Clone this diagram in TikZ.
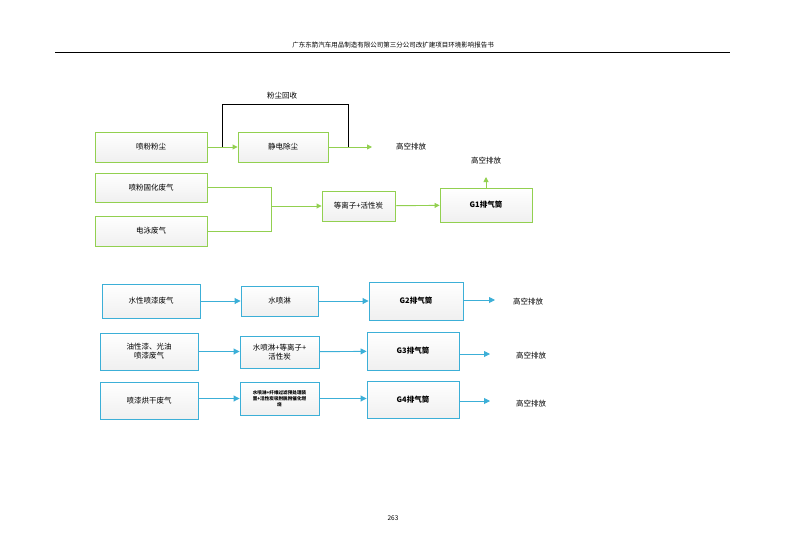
\documentclass[tikz,border=0pt]{standalone}
\usepackage{fontspec}
\setmainfont{Noto Sans CJK SC}
\usetikzlibrary{arrows.meta}
\definecolor{gr}{RGB}{146,208,80}
\definecolor{bl}{RGB}{60,175,215}
\tikzset{
 gbox/.style={draw=gr,line width=0.9pt,top color=white,bottom color=black!6,font=\fontsize{7.5}{9}\selectfont,inner sep=0pt},
 bbox/.style={draw=bl,line width=0.9pt,top color=white,bottom color=black!6,font=\fontsize{7.5}{9}\selectfont,inner sep=0pt,align=center},
 lbl/.style={font=\fontsize{7.5}{9}\selectfont},
 ga/.style={draw=gr,line width=0.9pt,-{Triangle[length=5pt,width=5pt]}},
 gl/.style={draw=gr,line width=0.9pt},
 ba/.style={draw=bl,line width=0.9pt,-{Triangle[length=6pt,width=6pt]}},
}
\begin{document}
\begin{tikzpicture}[x=1pt,y=-1pt]
\useasboundingbox (0,0) rectangle (786,556);
\node[lbl,font=\fontsize{6.5}{8}\selectfont] (hdr) at (393,45) {广东东箭汽车用品制造有限公司第三分公司改扩建项目环境影响报告书};
\draw[line width=0.5pt] (55,52) -- (730,52);
\node[font=\fontsize{6.5}{8}\selectfont] (pg) at (393,518) {263};
% top
\node[gbox,minimum width=112pt,minimum height=30pt] (pf) at (151,147) {喷粉粉尘};
\node[gbox,minimum width=90pt,minimum height=30pt] (jd) at (283,147) {静电除尘};
\node[gbox,minimum width=112pt,minimum height=29pt] (gh) at (151,187.5) {喷粉固化废气};
\node[gbox,minimum width=112pt,minimum height=30pt] (dy) at (151,231) {电泳废气};
\node[gbox,minimum width=73pt,minimum height=30pt] (dl) at (358.5,206) {等离子+活性炭};
\node[gbox,minimum width=92pt,minimum height=34pt] (g1) at (486,205) {\bfseries G1排气筒};
\node[lbl] (o1) at (411,147) {高空排放};
\node[lbl] (o2) at (486,161) {高空排放};
\node[lbl] (hs) at (282,96) {粉尘回收};
\coordinate (c1) at (222,147);
\coordinate (c2) at (348,147);
\coordinate (e1) at (372,147);
\coordinate (m) at (271,206);
\draw[ga] (pf) -- (jd);
\draw[ga] (jd) -- (e1);
\draw[line width=0.8pt] (c1) -- (222,104) -- (348,104) -- (c2);
\draw[gl] (gh.east) -| (m);
\draw[gl] (dy.east) -| (m);
\draw[ga] (m) -- (dl);
\draw[ga] (dl) -- (g1);
\draw[ga] (g1.north) -- (486,177);
% bottom
\node[bbox,minimum width=98pt,minimum height=34pt] (a1) at (151,301) {水性喷漆废气};
\node[bbox,minimum width=77pt,minimum height=30pt] (a2) at (279.5,301) {水喷淋};
\node[bbox,minimum width=94pt,minimum height=38pt] (a3) at (416,301) {\bfseries G2排气筒};
\node[lbl] (a4) at (528,302) {高空排放};
\node[bbox,minimum width=98pt,minimum height=37pt] (b1) at (149,351.5) {油性漆、光油\\喷漆废气};
\node[bbox,minimum width=79pt,minimum height=32pt] (b2) at (279.5,352) {水喷淋+等离子+\\活性炭};
\node[bbox,minimum width=92pt,minimum height=38pt] (b3) at (413,351) {\bfseries G3排气筒};
\node[lbl] (b4) at (531,356) {高空排放};
\node[bbox,minimum width=98pt,minimum height=37pt] (d1) at (149,400.5) {喷漆烘干废气};
\node[bbox,minimum width=79pt,minimum height=33pt,font=\fontsize{4.6}{6}\selectfont\bfseries] (d2) at (279.5,398.5) {水喷淋+纤维过滤预处理装\\置+活性炭吸附脱附催化燃\\烧};
\node[bbox,minimum width=92pt,minimum height=37pt] (d3) at (413,399.5) {\bfseries G4排气筒};
\node[lbl] (d4) at (531,404) {高空排放};
\coordinate (ea) at (495,300);
\coordinate (eb) at (490,354);
\coordinate (ed) at (490,401);
\draw[ba] (a1) -- (a2);
\draw[ba] (a2) -- (a3);
\draw[ba] (a3.east|-ea) -- (ea);
\draw[ba] (b1) -- (b2.west|-b1);
\draw[ba] (b2) -- (b3);
\draw[ba] (b3.east|-eb) -- (eb);
\draw[ba] (d1.east|-d2) -- (d2);
\draw[ba] (d2) -- (d3.west|-d2);
\draw[ba] (d3.east|-ed) -- (ed);
\end{tikzpicture}
\end{document}
